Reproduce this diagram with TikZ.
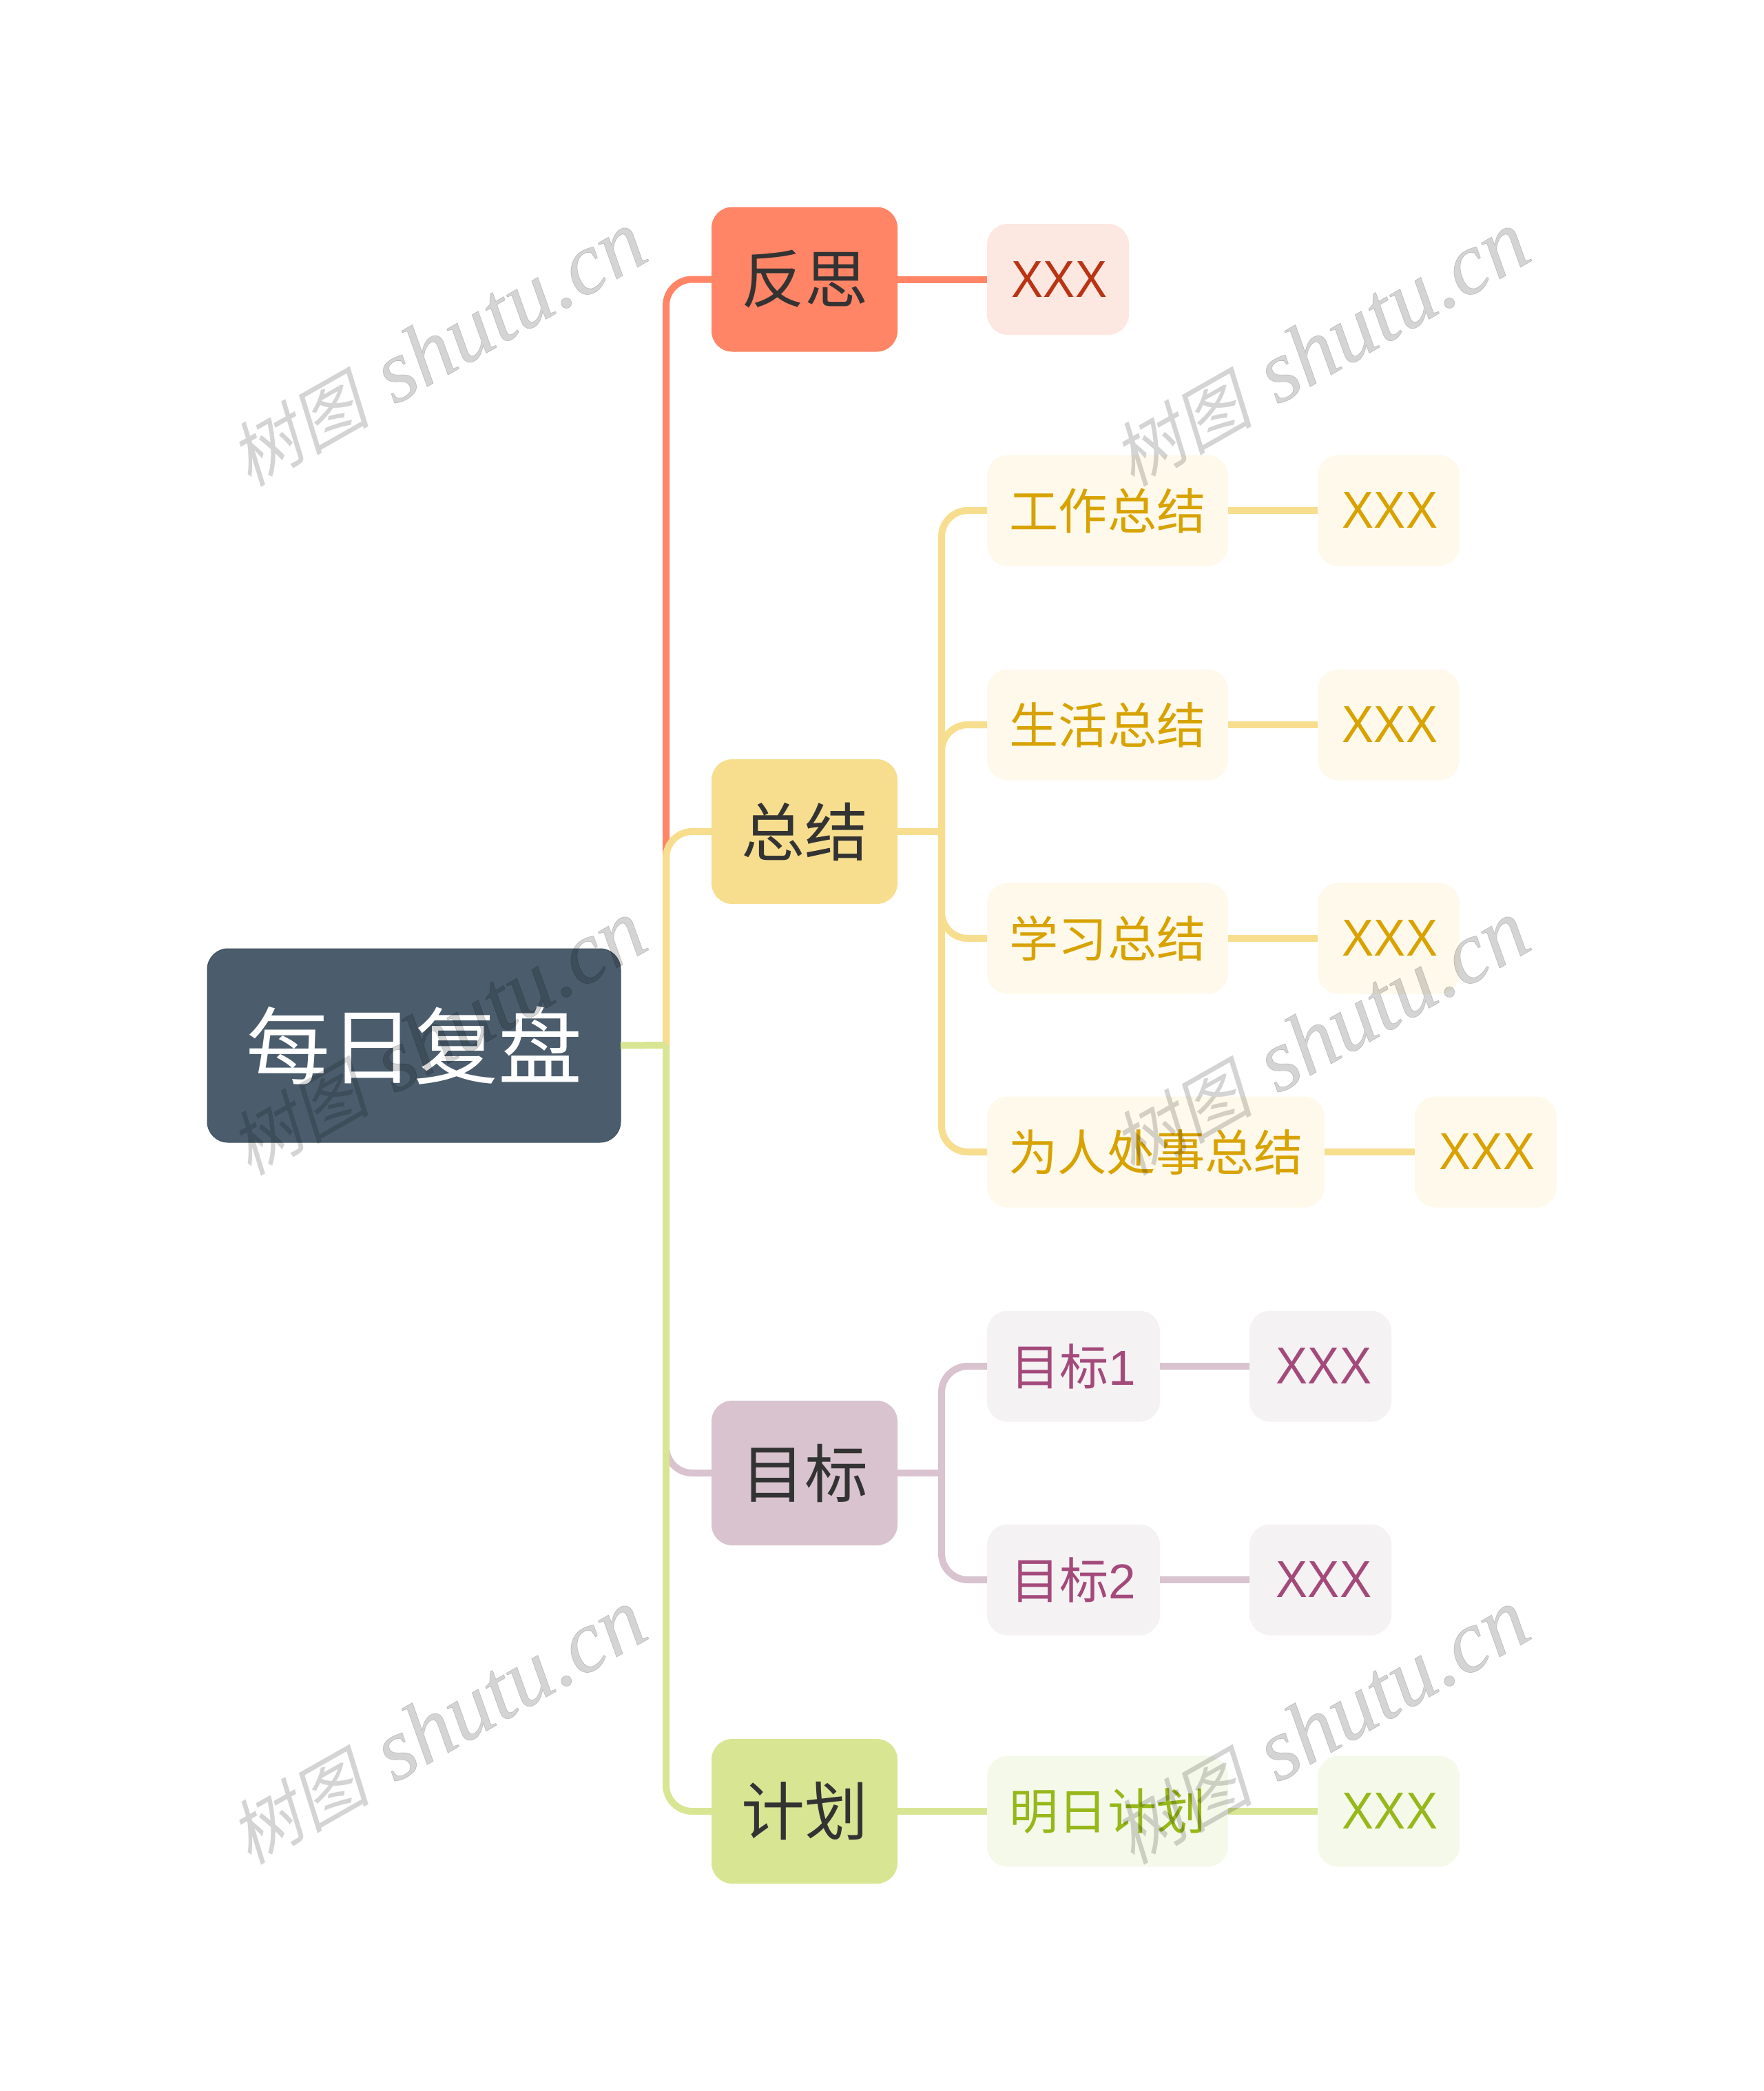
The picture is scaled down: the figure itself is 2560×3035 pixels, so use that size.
\documentclass[tikz,border=0pt]{standalone}
\usepackage{fontspec}
\setmainfont{Liberation Sans}
\newfontfamily\cjk{Noto Sans CJK SC}
\newfontfamily\wmcjk[FakeSlant=0.22]{Noto Sans CJK SC}
\newfontfamily\wmlat[FakeBold=0.5]{Liberation Serif Italic}
\newcommand{\lat}[1]{{\fontspec{Liberation Sans}#1}}
\definecolor{rootc}{HTML}{4B5D6D}
\definecolor{redc}{HTML}{FF8566}
\definecolor{redl}{HTML}{FDE7E1}
\definecolor{redt}{HTML}{B93413}
\definecolor{yelc}{HTML}{F7DE8F}
\definecolor{yell}{HTML}{FEF9EA}
\definecolor{yelt}{HTML}{D8A200}
\definecolor{purc}{HTML}{D8C3CE}
\definecolor{purl}{HTML}{F5F2F4}
\definecolor{purt}{HTML}{A34A7B}
\definecolor{grec}{HTML}{D8E694}
\definecolor{grel}{HTML}{F5F9E9}
\definecolor{gret}{HTML}{96B81A}
\tikzset{
  box/.style={rectangle,rounded corners=15pt,inner sep=0pt,outer sep=0pt},
  rootbox/.style={box,fill=rootc,draw=rootc!85!black,line width=.5pt,text=white,minimum width=300pt,minimum height=140.5pt,font=\cjk\fontsize{61}{70}\selectfont},
  mainbox/.style={box,minimum width=135pt,minimum height=105pt,text=black!80,font=\cjk\fontsize{46}{54}\selectfont},
  leaf/.style={box,minimum height=80.5pt,font=\cjk\fontsize{35.6}{42}\selectfont},
  rleaf/.style={leaf,fill=redl,text=redt},
  yleaf/.style={leaf,fill=yell,text=yelt},
  pleaf/.style={leaf,fill=purl,text=purt},
  gleaf/.style={leaf,fill=grel,text=gret},
  link/.style={line width=5pt,rounded corners=19pt},
  wmark/.style={anchor=base west,rotate=29.6,inner sep=0pt,text=black,text opacity=.17},
}
\newcommand{\wm}[3]{\node[wmark] (#1) at (#2,#3) {\fontsize{51}{50}\selectfont\wmcjk 树图\hspace{19pt}\fontsize{64}{60}\selectfont\wmlat shutu.cn};}
\newcommand{\xxx}{\hspace*{2pt}\scalebox{0.97}[1.06]{\lat{XXX}}}
\newcommand{\xxxp}{\hspace*{5pt}\scalebox{0.97}[1.06]{\lat{XXX}}}
\begin{document}
\begin{tikzpicture}[x=0.5pt,y=-0.5pt]
\fill[white] (0,0) rectangle (2560,3035);
\useasboundingbox (0,0) rectangle (2560,3035);
% junctions
\coordinate (t1) at (967,1517);
\coordinate (t2) at (1367,1207);
\coordinate (t3) at (1367,2138);
% nodes
\node[rootbox] (root) at (601,1517.5) {每日复盘};
\node[mainbox,fill=redc] (fs) at (1168,405.5) {反思};
\node[mainbox,fill=yelc] (zj) at (1168,1207) {总结};
\node[mainbox,fill=purc] (mb) at (1168,2138) {目标};
\node[mainbox,fill=grec] (jh) at (1168,2629) {计划};
\node[rleaf,minimum width=103pt] (fsx) at (1536,405.5) {\xxx};
\node[yleaf,minimum width=175pt] (a1) at (1608,741) {工作总结};
\node[yleaf,minimum width=175pt] (a2) at (1608,1052) {生活总结};
\node[yleaf,minimum width=175pt] (a3) at (1608,1362) {学习总结};
\node[yleaf,minimum width=245pt] (a4) at (1678,1672) {为人处事总结};
\node[yleaf,minimum width=103pt] (a1x) at (2016,741) {\xxx};
\node[yleaf,minimum width=103pt] (a2x) at (2016,1052) {\xxx};
\node[yleaf,minimum width=103pt] (a3x) at (2016,1362) {\xxx};
\node[yleaf,minimum width=103pt] (a4x) at (2157,1672) {\xxx};
\node[pleaf,minimum width=125.5pt] (b1) at (1558.5,1983) {目标\lat{1}};
\node[pleaf,minimum width=125.5pt] (b2) at (1558.5,2293) {目标\lat{2}};
\node[pleaf,minimum width=103pt] (b1x) at (1917,1983) {\xxxp};
\node[pleaf,minimum width=103pt] (b2x) at (1917,2293) {\xxxp};
\node[gleaf,minimum width=175pt] (c1) at (1608,2629) {明日计划};
\node[gleaf,minimum width=103pt] (c1x) at (2016,2629) {\xxx};
% connectors
\draw[link,redc] (t1) |- (fs.west);
\draw[link,yelc] (t1) |- (zj.west);
\draw[link,purc] (t1) |- (mb.west);
\draw[link,grec] (t1) |- (jh.west);
\draw[link,grec] (root.east) -- (t1);
\draw[link,redc] (fs.east) -- (fsx.west);
\draw[link,yelc] (zj.east) -- (t2);
\draw[link,yelc] (t2) |- (a1.west);
\draw[link,yelc] (t2) |- (a2.west);
\draw[link,yelc] (t2) |- (a3.west);
\draw[link,yelc] (t2) |- (a4.west);
\draw[link,yelc] (a1.east) -- (a1x.west);
\draw[link,yelc] (a2.east) -- (a2x.west);
\draw[link,yelc] (a3.east) -- (a3x.west);
\draw[link,yelc] (a4.east) -- (a4x.west);
\draw[link,purc] (mb.east) -- (t3);
\draw[link,purc] (t3) |- (b1.west);
\draw[link,purc] (t3) |- (b2.west);
\draw[link,purc] (b1.east) -- (b1x.west);
\draw[link,purc] (b2.east) -- (b2x.west);
\draw[link,grec] (jh.east) -- (c1.west);
\draw[link,grec] (c1.east) -- (c1x.west);
% watermarks
\wm{w1}{362}{708}
\wm{w2}{1644}{708}
\wm{w3}{362}{1708}
\wm{w4}{1644}{1708}
\wm{w5}{362}{2708}
\wm{w6}{1644}{2708}
\end{tikzpicture}
\end{document}
